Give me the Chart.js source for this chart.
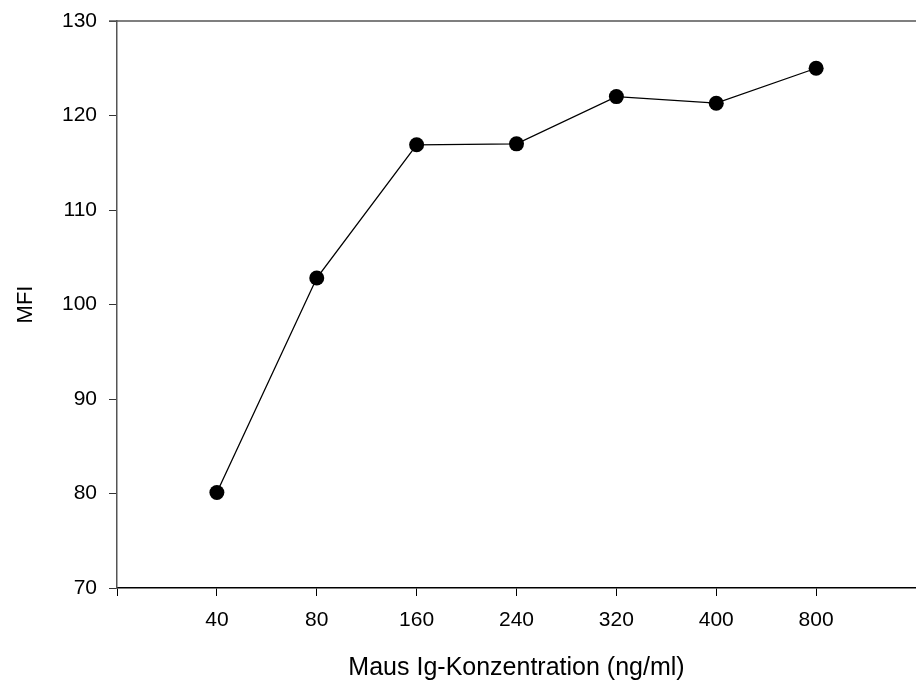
<!DOCTYPE html>
<html>
<head>
    <meta charset="UTF-8">
    <title>MFI</title>
    <script src="https://cdn.jsdelivr.net/npm/chart.js@4.4.0/dist/chart.umd.min.js"></script>
    <style type="text/css">
        body { margin:0px; padding:0px; background:#fff; }
        #wrap { width:916px; height:683px; }
    </style>
</head>
<body>
<div id="wrap"><canvas id="mfiChart" width="916" height="683"></canvas></div>
<script type="text/javascript">
    // data
    var concentrations = ["40", "80", "160", "240", "320", "400", "800"];
    var mfiValues = [80.1, 102.8, 116.9, 117.0, 122.0, 121.3, 125.0];
    var yTicks = [70, 80, 90, 100, 110, 120, 130];

    // empty slot at each end so the points sit inside the frame
    var labels = [""].concat(concentrations, [""]);
    var values = [null].concat(mfiValues, [null]);

    var fontFam = "'Liberation Sans', Arial, sans-serif";

    // plain line along the top of the plot area
    var topLine = {
        id: 'topLine',
        afterDraw: function(chart) {
            var c = chart.ctx, a = chart.chartArea;
            c.save();
            c.strokeStyle = '#555';
            c.lineWidth = 1.5;
            c.beginPath();
            c.moveTo(a.left - 8, a.top);
            c.lineTo(a.right, a.top);
            c.stroke();
            c.restore();
        }
    };

    var ctx = document.getElementById('mfiChart').getContext('2d');
    var chart = new Chart(ctx, {
        type: 'line',
        data: {
            labels: labels,
            datasets: [{
                data: values,
                borderColor: '#000',
                backgroundColor: '#000',
                borderWidth: 1.3,
                pointRadius: 7.5,
                pointBackgroundColor: '#000',
                pointBorderWidth: 0,
                tension: 0
            }]
        },
        options: {
            responsive: false,
            animation: false,
            layout: { autoPadding: false, padding: { top: 21, right: 0, left: 1, bottom: 0 } },
            plugins: { legend: { display: false }, tooltip: { enabled: false } },
            scales: {
                x: {
                    offset: false,
                    grid: { drawOnChartArea: false, drawTicks: true, tickLength: 8, color: '#000', lineWidth: 1 },
                    border: { color: '#000', width: 1.5 },
                    ticks: { color: '#000', font: { family: fontFam, size: 21 }, padding: 12, maxRotation: 0, autoSkip: false },
                    title: { display: true, text: 'Maus Ig-Konzentration (ng/ml)', color: '#000',
                             font: { family: fontFam, size: 25 }, padding: { top: 4, bottom: 0 } },
                    afterFit: function(s) { s.height = 95; s.paddingLeft = 0; s.paddingRight = 0; }
                },
                y: {
                    min: 70, max: 130,
                    afterBuildTicks: function(s) { s.ticks = yTicks.map(function(v) { return { value: v }; }); },
                    grid: { drawOnChartArea: false, drawTicks: true, tickLength: 8, color: '#333', lineWidth: 1 },
                    border: { color: '#555', width: 1.5 },
                    ticks: { color: '#000', font: { family: fontFam, size: 21 }, padding: 12 },
                    title: { display: true, text: 'MFI', color: '#000',
                             font: { family: fontFam, size: 22 }, padding: { top: 12, bottom: 4 } },
                    afterFit: function(s) { s.width = 116; s.paddingTop = 0; s.paddingBottom = 0; }
                }
            }
        },
        plugins: [topLine]
    });
</script>
</body>
</html>
